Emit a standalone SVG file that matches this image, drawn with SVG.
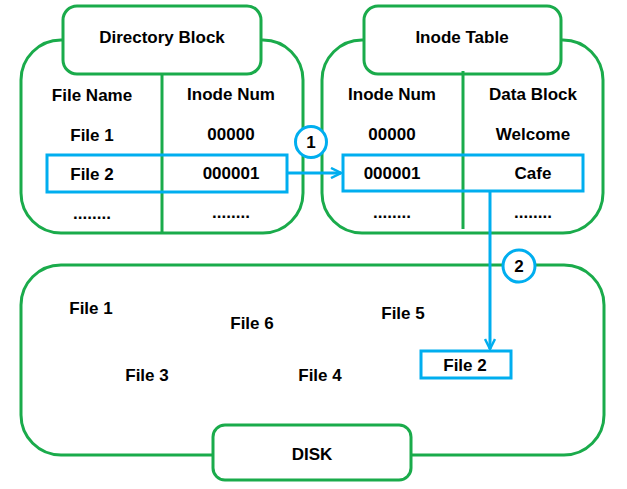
<svg xmlns="http://www.w3.org/2000/svg" width="627" height="489" viewBox="0 0 627 489">
<style>
.g{fill:none;stroke:#1AAB4B;stroke-width:3}
.h{fill:#fff;stroke:#1AAB4B;stroke-width:3}
.b{fill:none;stroke:#00AEEF;stroke-width:3}
.bc{fill:#fff;stroke:#00AEEF;stroke-width:3}
text{font-family:"Liberation Sans",Arial,sans-serif;font-weight:bold;font-size:17px;fill:#000;text-anchor:middle}
</style>
<defs>
<marker id="ah" viewBox="0 0 12 12" refX="11" refY="6" markerWidth="12" markerHeight="12" markerUnits="userSpaceOnUse" orient="auto">
<path d="M1,1 L11,6 L1,11" fill="none" stroke="#00AEEF" stroke-width="2.5"/>
</marker>
</defs>
<rect width="627" height="489" fill="#fff"/>
<g id="directory-block">
<rect class="g" x="21" y="40" width="282" height="193" rx="40"/>
<line class="g" x1="162" y1="74" x2="162" y2="233"/>
<rect class="h" x="63" y="6" width="198" height="68" rx="14"/>
<text x="162" y="43">Directory Block</text>
<text x="92" y="101">File Name</text>
<text x="231" y="100">Inode Num</text>
<text x="92" y="141">File 1</text>
<text x="231" y="140">00000</text>
<text x="92" y="180">File 2</text>
<text x="231" y="179">000001</text>
<text x="92" y="219">........</text>
<text x="231" y="218">........</text>
<rect class="b" x="47" y="155" width="240" height="37"/>
</g>
<g id="inode-table">
<rect class="g" x="322" y="40" width="281" height="193" rx="40"/>
<rect class="h" x="364" y="6" width="197" height="68" rx="14"/>
<line class="g" x1="463" y1="71" x2="463" y2="229"/>
<text x="462" y="43">Inode Table</text>
<text x="392" y="100">Inode Num</text>
<text x="533" y="100">Data Block</text>
<text x="392" y="140">00000</text>
<text x="533" y="140">Welcome</text>
<text x="392" y="179">000001</text>
<text x="533" y="179">Cafe</text>
<text x="392" y="218">........</text>
<text x="533" y="218">........</text>
<rect class="b" x="343" y="155" width="240" height="36"/>
</g>
<g id="disk">
<rect class="g" x="21" y="265" width="583" height="190" rx="40"/>
<rect class="h" x="213" y="425" width="198" height="55" rx="12"/>
<text x="312" y="460">DISK</text>
<text x="91" y="314">File 1</text>
<text x="252" y="329">File 6</text>
<text x="403" y="319">File 5</text>
<text x="147" y="381">File 3</text>
<text x="320" y="381">File 4</text>
<rect class="b" x="421" y="351" width="90" height="27"/>
<text x="465" y="371">File 2</text>
</g>
<g id="connectors">
<line class="b" x1="287" y1="173" x2="341" y2="173" marker-end="url(#ah)"/>
<line class="b" x1="490" y1="191" x2="490" y2="349" marker-end="url(#ah)"/>
</g>
<g id="step-1">
<circle class="bc" cx="311" cy="142" r="15.5"/>
<text x="311" y="148">1</text>
</g>
<g id="step-2">
<circle class="bc" cx="519" cy="266" r="16"/>
<text x="519" y="272">2</text>
</g>
</svg>
